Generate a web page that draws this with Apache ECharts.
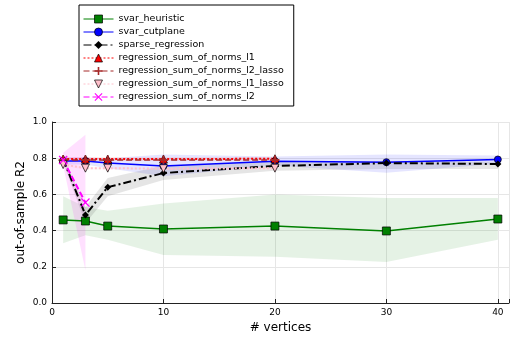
<!DOCTYPE html>
<html><head><meta charset="utf-8">
<script src="https://cdn.jsdelivr.net/npm/echarts@6/dist/echarts.min.js"></script>
<style>html,body{margin:0;padding:0;background:#fff}#c{width:512px;height:339px}</style>
</head><body><div id="c"></div>
<script>
var xTicks = [0, 10, 20, 30, 40];
var yTicks = [0, 0.2, 0.4, 0.6, 0.8, 1.0];

var heurX = [1, 3, 5, 10, 20, 30, 40];
var heurY = [0.459, 0.453, 0.425, 0.409, 0.425, 0.398, 0.464];
var heurLo = [0.33, 0.375, 0.35, 0.265, 0.255, 0.227, 0.35];
var heurHi = [0.59, 0.53, 0.51, 0.55, 0.60, 0.58, 0.58];

var cutX = [1, 3, 5, 10, 20, 30, 40];
var cutY = [0.785, 0.785, 0.773, 0.757, 0.783, 0.778, 0.793];
var cutLo = [0.765, 0.765, 0.745, 0.70, 0.76, 0.72, 0.77];
var cutHi = [0.805, 0.805, 0.80, 0.82, 0.81, 0.82, 0.815];

var sparseX = [1, 3, 5, 10, 20, 30, 40];
var sparseY = [0.795, 0.486, 0.64, 0.718, 0.757, 0.773, 0.768];
var sparseLo = [0.775, 0.44, 0.59, 0.68, 0.73, 0.74, 0.74];
var sparseHi = [0.815, 0.53, 0.69, 0.76, 0.78, 0.785, 0.78];

var l1X = [1, 3, 5, 10, 20];
var l1Y = [0.795, 0.795, 0.795, 0.795, 0.797];
var l1Lo = [0.785, 0.785, 0.785, 0.785, 0.787];
var l1Hi = [0.805, 0.805, 0.805, 0.805, 0.807];

var l2lassoX = [1, 3, 5, 10, 20];
var l2lassoY = [0.79, 0.79, 0.79, 0.79, 0.79];

var l1lassoX = [1, 3, 5, 10, 20];
var l1lassoY = [0.765, 0.745, 0.745, 0.742, 0.745];
var l1lassoLo = [0.755, 0.738, 0.738, 0.735, 0.738];
var l1lassoHi = [0.775, 0.752, 0.752, 0.75, 0.752];

var l2X = [1, 3];
var l2Y = [0.79, 0.555];
var l2Lo = [0.76, 0.18];
var l2Hi = [0.83, 0.93];

function pts(xs, ys) { return xs.map(function (x, i) { return [x, ys[i]]; }); }

function band(xs, lo, hi, color) {
  return {
    type: 'custom', silent: true, z: 1,
    data: xs.map(function (x, i) { return [x, lo[i], hi[i]]; }),
    renderItem: function (params, api) {
      if (params.dataIndex !== 0) return null;
      var p = [];
      for (var i = 0; i < xs.length; i++) p.push(api.coord([xs[i], hi[i]]));
      for (var j = xs.length - 1; j >= 0; j--) p.push(api.coord([xs[j], lo[j]]));
      return { type: 'polygon', shape: { points: p }, style: { fill: color, stroke: null } };
    }
  };
}

var plusPath = 'path://M4,0L6,0L6,4L10,4L10,6L6,6L6,10L4,10L4,6L0,6L0,4L4,4Z';
var xPath = 'path://M1,0L5,4L9,0L10,1L6,5L10,9L9,10L5,6L1,10L0,9L4,5L0,1Z';

var styles = [
  { color: '#008000', type: 'solid', width: 1.5, symbol: 'rect', size: 8, fill: '#008000', border: '#000' },
  { color: '#0000ff', type: 'solid', width: 1.5, symbol: 'circle', size: 7, fill: '#0000ff', border: '#000' },
  { color: '#000000', type: [8, 3, 2, 3], width: 2, symbol: 'diamond', size: 7, fill: '#000', border: null },
  { color: '#ff0000', type: [2, 2], width: 2, symbol: 'triangle', size: 8, fill: '#ff0000', border: '#000' },
  { color: '#a52a2a', type: [6, 3], width: 1.5, symbol: plusPath, size: 9, fill: '#a52a2a', border: null },
  { color: '#ffc0cb', type: [2, 2], width: 2, symbol: 'triangle', size: 8, fill: '#ffc0cb', border: '#000', rotate: 180 },
  { color: '#ff00ff', type: [6, 3], width: 2, symbol: xPath, size: 9, fill: '#ff00ff', border: null }
];

var names = ['svar_heuristic', 'svar_cutplane', 'sparse_regression', 'regression_sum_of_norms_l1',
  'regression_sum_of_norms_l2_lasso', 'regression_sum_of_norms_l1_lasso', 'regression_sum_of_norms_l2'];

function line(k, xs, ys) {
  var s = styles[k];
  return {
    name: names[k], type: 'line', z: 3,
    data: pts(xs, ys),
    lineStyle: { color: s.color, width: s.width, type: s.type },
    itemStyle: { color: s.fill, borderColor: s.border || s.fill, borderWidth: s.border ? 0.7 : 0 },
    symbol: s.symbol, symbolSize: s.size, symbolRotate: s.rotate || 0, showSymbol: true
  };
}

var legendData = names.map(function (n, k) {
  var s = styles[k];
  return {
    name: n,
    itemStyle: { color: s.fill, borderColor: s.border || s.fill, borderWidth: s.border ? 0.7 : 0 },
    lineStyle: { color: s.color, width: 1, type: s.type }
  };
});

var chart = echarts.init(document.getElementById('c'), null, { renderer: 'canvas' });
chart.setOption({
  animation: false,
  textStyle: { fontFamily: 'DejaVu Sans' },
  grid: { left: 52, right: 1, top: 122, bottom: 36 },
  legend: {
    data: legendData, orient: 'vertical', left: 79, top: 5,
    backgroundColor: '#fff', borderColor: '#000', borderWidth: 1,
    padding: [9, 10, 4, 4], itemGap: 3, itemWidth: 30, itemHeight: 10,
    textStyle: { fontSize: 9.5, color: '#000', fontFamily: 'DejaVu Sans' }
  },
  xAxis: {
    type: 'value', min: 0, max: 41, interval: 10,
    name: '# vertices', nameLocation: 'middle', nameGap: 19, nameMoveOverlap: false,
    nameTextStyle: { fontSize: 12, color: '#000' },
    axisLine: { lineStyle: { color: '#222', width: 1 } },
    axisTick: { inside: true, length: 4, lineStyle: { color: '#222' } },
    axisLabel: { fontSize: 9, color: '#000', margin: 5,
      formatter: function (v) { return xTicks.indexOf(v) >= 0 ? String(v) : ''; } },
    splitLine: { show: true, lineStyle: { color: '#e6e6e6', width: 1 } }
  },
  yAxis: {
    type: 'value', min: 0, max: 1, interval: 0.2,
    name: 'out-of-sample R2', nameLocation: 'middle', nameGap: 25, nameMoveOverlap: false,
    nameTextStyle: { fontSize: 12, color: '#000' },
    axisLine: { show: true, lineStyle: { color: '#222', width: 1 } },
    axisTick: { show: true, inside: true, length: 4, lineStyle: { color: '#222' } },
    axisLabel: { fontSize: 9, color: '#000', margin: 5,
      formatter: function (v) { return v.toFixed(1); } },
    splitLine: { show: true, lineStyle: { color: '#e6e6e6', width: 1 } }
  },
  series: [
    band(heurX, heurLo, heurHi, 'rgba(0,128,0,0.1)'),
    band(cutX, cutLo, cutHi, 'rgba(0,0,255,0.1)'),
    band(sparseX, sparseLo, sparseHi, 'rgba(0,0,0,0.1)'),
    band(l1X, l1Lo, l1Hi, 'rgba(255,0,0,0.1)'),
    band(l1lassoX, l1lassoLo, l1lassoHi, 'rgba(255,192,203,0.15)'),
    band(l2X, l2Lo, l2Hi, 'rgba(255,0,255,0.12)'),
    line(0, heurX, heurY),
    line(1, cutX, cutY),
    line(2, sparseX, sparseY),
    line(3, l1X, l1Y),
    line(4, l2lassoX, l2lassoY),
    line(5, l1lassoX, l1lassoY),
    line(6, l2X, l2Y)
  ]
});
</script></body></html>
